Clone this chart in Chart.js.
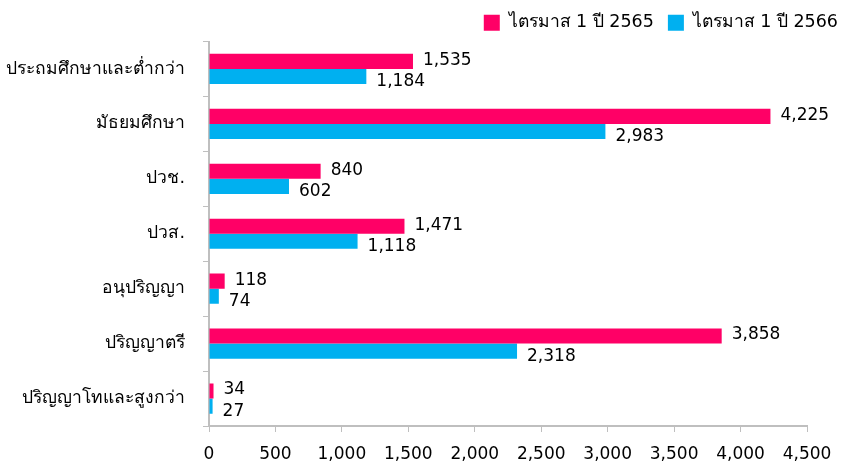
<!DOCTYPE html>
<html>
<head>
<meta charset="utf-8">
<script src="https://cdn.jsdelivr.net/npm/chart.js@4/dist/chart.umd.min.js"></script>
<style>
  html, body { margin: 0; padding: 0; background: #fff; }
  #wrap { width: 850px; height: 465px; }
</style>
</head>
<body>
<div id="wrap"><canvas id="myChart" width="850" height="465"></canvas></div>
<script>
// categories (education level)
const categories = ['ประถมศึกษาและต่ำกว่า', 'มัธยมศึกษา', 'ปวช.', 'ปวส.', 'อนุปริญญา', 'ปริญญาตรี', 'ปริญญาโทและสูงกว่า'];
const seriesNames = ['ไตรมาส 1 ปี 2565', 'ไตรมาส 1 ปี 2566'];
const q1_2565 = [1535, 4225, 840, 1471, 118, 3858, 34];
const q1_2566 = [1184, 2983, 602, 1118, 74, 2318, 27];
const xTicks = [0, 500, 1000, 1500, 2000, 2500, 3000, 3500, 4000, 4500];

const FONT = '"DejaVu Sans", Tahoma, "Noto Sans", sans-serif';

// draw value labels at the end of each bar
const valueLabels = {
    id: 'valueLabels',
    afterDatasetsDraw(chart) {
        const ctx = chart.ctx;
        ctx.save();
        ctx.font = '17px ' + FONT;
        ctx.fillStyle = '#000';
        ctx.textAlign = 'left';
        ctx.textBaseline = 'middle';
        chart.data.datasets.forEach((ds, i) => {
            const meta = chart.getDatasetMeta(i);
            meta.data.forEach((bar, j) => {
                let txt = ds.data[j].toLocaleString('en-US');
                let dy = i === 0 ? -1 : 5;
                ctx.fillText(txt, bar.x + 10, bar.y + dy);
            });
        });
        ctx.restore();
    }
};

var ctx = document.getElementById('myChart').getContext('2d');
var myChart = new Chart(ctx, {
    type: 'bar',
    data: {
        labels: categories,
        datasets: [
            {
                label: seriesNames[0],
                data: q1_2565,
                backgroundColor: '#FF0066',
                categoryPercentage: 0.55,
                barPercentage: 1.0
            },
            {
                label: seriesNames[1],
                data: q1_2566,
                backgroundColor: '#00B0F0',
                categoryPercentage: 0.55,
                barPercentage: 1.0
            }
        ]
    },
    options: {
        indexAxis: 'y',
        responsive: false,
        animation: false,
        layout: { padding: { left: 0, right: -2, top: 0, bottom: 0 } },
        plugins: {
            legend: {
                position: 'top',
                align: 'end',
                labels: {
                    boxWidth: 16,
                    boxHeight: 16,
                    padding: 14,
                    color: '#000',
                    font: { family: FONT, size: 17.5 }
                }
            },
            tooltip: { enabled: false }
        },
        scales: {
            x: {
                min: 0,
                max: 4500,
                afterBuildTicks: (scale) => { scale.ticks = xTicks.map(v => ({ value: v })); },
                afterFit: (scale) => { scale.height = 39; },
                grid: {
                    drawOnChartArea: false,
                    drawTicks: true,
                    tickLength: 6,
                    color: '#BFBFBF'
                },
                border: { color: '#BFBFBF', width: 2 },
                ticks: {
                    color: '#000',
                    font: { family: FONT, size: 17 },
                    padding: 12,
                    maxRotation: 0,
                    callback: (v) => v.toLocaleString('en-US')
                }
            },
            y: {
                afterFit: (scale) => { scale.width = 209; },
                grid: {
                    drawOnChartArea: false,
                    drawTicks: true,
                    tickLength: 6,
                    offset: true,
                    color: '#BFBFBF'
                },
                border: { color: '#BFBFBF', width: 2 },
                ticks: {
                    color: '#000',
                    font: { family: FONT, size: 17.5 },
                    padding: 18
                }
            },
            // empty right-hand axis, only reserves room right of the plot
            yRight: {
                position: 'right',
                afterFit: (scale) => { scale.width = 45; },
                grid: { display: false },
                border: { display: false },
                ticks: { display: false }
            }
        }
    },
    plugins: [valueLabels]
});
</script>
</body>
</html>
